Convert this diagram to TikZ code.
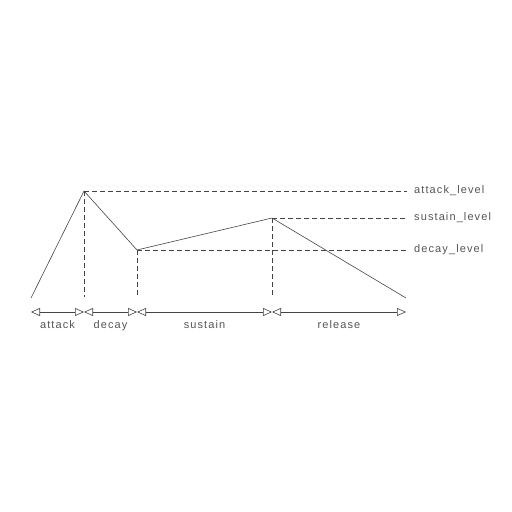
\documentclass[tikz,border=0pt]{standalone}
\usepackage{fontspec}
\setsansfont[LetterSpace=10]{Liberation Sans}
\usetikzlibrary{arrows.meta}
\definecolor{inkgray}{HTML}{444444}
\definecolor{textgray}{HTML}{555555}
\tikzset{
  env/.style={draw=inkgray,line width=0.6bp},
  guide/.style={draw=inkgray,line width=0.6bp,dash pattern=on 5bp off 3bp},
  span/.style={draw=inkgray,line width=0.6bp,{Triangle[open,length=9bp,width=8bp]}-{Triangle[open,length=9bp,width=8bp]}},
  lbl/.style={text=textgray,font=\sffamily\fontsize{11bp}{13bp}\selectfont,inner sep=1bp}
}
\begin{document}
\begin{tikzpicture}[x=1bp,y=-1bp]
    \useasboundingbox (0,0) rectangle (512,512);
    \coordinate (start) at (31,298);
    \coordinate (peak) at (84,191);
    \coordinate (dec) at (137,250);
    \coordinate (sus) at (272,218);
    \coordinate (stop) at (406,298);
    \draw[env] (start) -- (peak) -- (dec) -- (sus) -- (stop);
    \coordinate (peakfoot) at (84,297);
    \coordinate (decfoot) at (137,297);
    \coordinate (susfoot) at (272,297);
    \draw[guide] (peak) -- (peakfoot);
    \draw[guide] (dec) -- (decfoot);
    \draw[guide] (sus) -- (susfoot);
    \node[lbl,anchor=west] (al) at (413,191) {attack\_level};
    \node[lbl,anchor=west] (sl) at (413,218) {sustain\_level};
    \node[lbl,anchor=west] (dl) at (413,250) {decay\_level};
    \coordinate (alend) at (407,191);
    \coordinate (slend) at (407,218);
    \coordinate (dlend) at (407,250);
    \draw[guide] (peak) -- (alend);
    \draw[guide] (sus) -- (slend);
    \draw[guide] (dec) -- (dlend);
    \coordinate (t0) at (31,312);
    \coordinate (t1) at (84,312);
    \coordinate (t2) at (137,312);
    \coordinate (t3) at (272,312);
    \coordinate (t4) at (406,312);
    \draw[span] (t0) -- (t1) node[midway,lbl,below=7bp] (la) {attack};
    \draw[span] (t1) -- (t2) node[midway,lbl,below=7bp] (ld) {decay};
    \draw[span] (t2) -- (t3) node[midway,lbl,below=7bp] (ls) {sustain};
    \draw[span] (t3) -- (t4) node[midway,lbl,below=7bp] (lr) {release};
\end{tikzpicture}
\end{document}
